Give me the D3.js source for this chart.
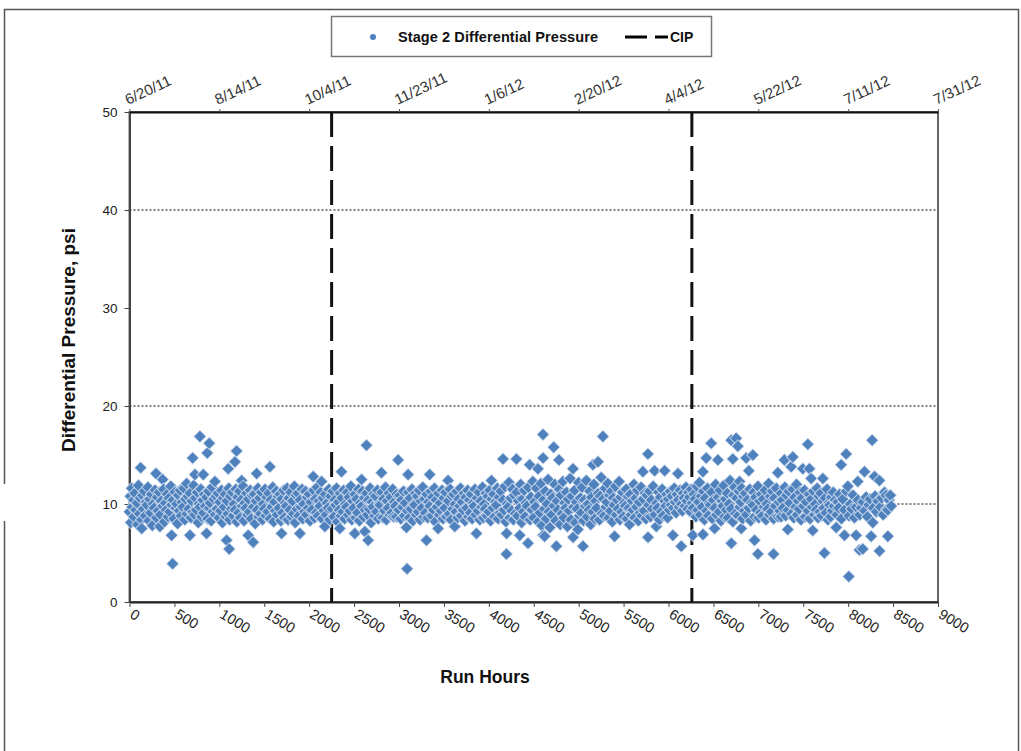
<!DOCTYPE html>
<meta charset="utf-8">
<script src="https://d3js.org/d3.v7.min.js"></script>
<style>
  body { margin: 0; background: #fff; }
  text { font-family: "Liberation Sans", Arial, sans-serif; }
</style>
<body>
<div id="chart"></div>
<script>

// ---- data ----
const xTicks = [0, 500, 1000, 1500, 2000, 2500, 3000, 3500, 4000, 4500, 5000, 5500, 6000, 6500, 7000, 7500, 8000, 8500, 9000];
const yTicks = [0, 10, 20, 30, 40, 50];
const gridValues = [10, 20, 40];
const dateTickHours = [0, 1000, 2000, 3000, 4000, 5000, 6000, 7000, 8000, 9000];
const dateLabels = ["6/20/11", "8/14/11", "10/4/11", "11/23/11", "1/6/12", "2/20/12", "4/4/12", "5/22/12", "7/11/12", "7/31/12"];
const cipHours = [2250, 6260];

// [run hours, stage 2 differential pressure psi]
const stage2Points = [
  [0,9.2],[10,10.8],[15,8.1],[25,11.6],[30,9.7],[45,10.4],[50,8.7],[60,11.1],[70,9.4],[85,10.1],[90,7.9],[100,11.9],[110,9.0],[120,10.6],[124,13.7],[135,8.4],[136,7.5],[145,10.9],[155,9.5],[165,11.3],[175,8.8],[185,10.2],[195,9.9],[205,11.7],[215,8.3],[225,10.5],[235,9.1],[245,11.0],[255,7.8],[265,10.0],[275,9.6],[285,11.4],[295,13.1],[300,8.6],[310,10.7],[320,9.3],[330,11.2],[339,7.7],[345,8.9],[355,10.3],[369,12.5],[370,9.8],[380,11.5],[390,8.2],[400,10.1],[410,9.4],[420,11.0],[430,8.7],[440,10.6],[450,9.2],[460,11.8],[469,6.8],[470,9.9],[480,3.9],[485,10.4],[495,8.5],
  [505,11.2],[515,9.6],[525,10.0],[535,8.0],[545,10.9],[555,9.3],[565,11.4],[575,8.8],[585,10.2],[595,9.7],[605,11.6],[615,8.4],[625,10.5],[636,12.1],[640,9.0],[650,10.8],[660,9.5],[673,6.8],[675,11.1],[685,8.6],[695,10.3],[703,14.7],[705,9.2],[715,11.9],[725,8.9],[729,13.0],[735,10.6],[745,9.4],[755,11.2],[765,8.1],[775,10.0],[784,16.9],[785,9.7],[795,11.5],[805,8.7],[815,10.4],[821,13.0],[825,9.1],[835,11.0],[845,9.8],[858,7.0],[860,10.7],[866,15.2],[870,8.5],[880,11.3],[888,16.2],[890,9.6],[900,10.1],[910,8.3],[920,11.7],[930,9.2],[940,10.5],[951,12.3],[955,8.9],[965,10.8],[975,9.5],[985,11.1],[995,8.6],
  [1005,10.2],[1015,9.3],[1025,11.4],[1035,8.1],[1045,10.6],[1055,9.7],[1065,11.0],[1075,8.7],[1081,6.3],[1085,10.3],[1095,9.0],[1099,13.6],[1105,11.6],[1110,5.4],[1115,8.4],[1125,10.8],[1135,9.5],[1145,11.2],[1155,8.8],[1165,10.0],[1174,14.3],[1175,9.4],[1185,11.5],[1192,15.4],[1195,8.2],[1205,10.7],[1215,9.1],[1225,11.3],[1235,8.6],[1245,10.4],[1248,12.4],[1255,9.8],[1265,11.8],[1275,8.3],[1285,10.1],[1295,9.6],[1305,11.1],[1315,8.9],[1322,6.8],[1325,10.5],[1335,9.2],[1345,11.4],[1355,8.5],[1365,10.9],[1377,6.1],[1380,9.7],[1390,11.0],[1400,8.0],[1410,10.3],[1415,13.1],[1420,9.4],[1430,11.6],[1440,8.7],[1450,10.6],[1460,9.0],[1470,11.2],[1480,8.4],[1490,10.0],
  [1500,9.5],[1510,11.5],[1520,8.8],[1530,10.7],[1540,9.2],[1550,11.1],[1563,13.8],[1565,8.5],[1575,10.4],[1585,9.7],[1595,11.7],[1605,8.2],[1615,10.2],[1625,9.3],[1635,11.3],[1645,8.9],[1655,10.8],[1665,9.6],[1675,11.0],[1685,8.3],[1693,7.0],[1695,10.5],[1705,9.1],[1715,11.4],[1725,8.6],[1735,10.1],[1745,9.8],[1755,11.6],[1765,8.4],[1775,10.6],[1785,9.4],[1795,11.2],[1805,8.7],[1815,10.3],[1825,9.0],[1835,11.8],[1845,8.1],[1855,10.9],[1865,9.5],[1875,11.1],[1885,8.8],[1897,7.0],[1900,10.4],[1910,9.7],[1920,11.5],[1930,8.5],[1940,10.0],[1950,9.2],[1960,11.3],[1970,8.9],[1980,10.7],[1990,9.6],[2000,11.0],[2010,8.3],[2020,10.2],[2030,9.4],[2045,12.8],[2050,11.4],[2060,8.6],[2070,10.5],[2080,9.1],[2090,11.7],[2100,8.8],[2110,10.3],[2120,9.8],[2130,11.2],[2138,12.3],[2145,8.5],[2155,10.6],[2165,9.3],[2175,7.7],[2180,11.0],[2190,8.9],[2200,10.1],[2210,9.6],[2220,11.5],[2230,8.4],[2240,10.8],
  [2255,9.5],[2265,11.3],[2275,8.7],[2285,10.4],[2295,9.9],[2305,11.6],[2315,8.2],[2325,10.2],[2335,9.4],[2341,7.5],[2345,11.1],[2355,8.8],[2360,13.3],[2365,10.6],[2375,9.2],[2385,11.4],[2395,8.5],[2405,10.0],[2415,9.7],[2425,11.2],[2435,8.9],[2445,10.7],[2455,9.3],[2465,11.8],[2475,8.4],[2485,10.3],[2495,9.6],[2508,7.0],[2510,11.0],[2520,8.6],[2530,10.5],[2540,9.1],[2550,11.5],[2560,8.3],[2570,10.1],[2583,12.5],[2585,9.8],[2595,11.3],[2605,8.7],[2615,10.6],[2620,7.2],[2625,9.4],[2638,16.0],[2640,11.1],[2650,8.9],[2656,6.3],[2660,10.4],[2670,9.5],[2680,11.6],[2690,8.1],[2700,10.2],[2710,9.7],[2720,11.0],[2730,8.8],[2740,10.8],[2750,9.2],[2760,11.4],[2770,8.5],[2780,10.0],[2790,9.9],[2805,13.2],[2810,11.2],[2820,8.6],[2830,10.5],[2840,9.3],[2850,11.7],[2860,8.4],[2870,10.3],[2880,9.6],[2890,11.1],[2900,8.9],[2910,10.7],[2920,9.1],[2930,11.5],[2940,8.7],[2950,10.2],[2960,9.8],[2972,8.7],[2975,11.0],[2990,14.5],
  [3000,9.4],[3010,10.9],[3020,8.5],[3030,10.4],[3040,9.7],[3050,11.3],[3060,8.8],[3070,10.1],[3083,7.6],[3090,3.4],[3095,9.3],[3101,13.0],[3105,11.2],[3115,8.6],[3125,10.6],[3135,9.5],[3145,11.5],[3155,8.3],[3165,10.0],[3175,9.9],[3185,11.1],[3195,8.9],[3205,10.8],[3215,9.2],[3225,11.4],[3235,8.4],[3245,10.3],[3255,9.6],[3265,11.7],[3275,8.7],[3285,10.5],[3295,9.1],[3306,6.3],[3310,11.0],[3320,8.6],[3330,10.2],[3342,13.0],[3345,9.8],[3355,11.3],[3365,8.8],[3375,10.7],[3385,9.4],[3395,11.6],[3405,8.2],[3415,10.4],[3425,9.7],[3435,7.5],[3440,11.1],[3450,8.9],[3460,10.1],[3470,9.3],[3480,11.4],[3490,8.5],[3500,10.6],[3510,9.6],[3520,11.2],[3530,8.7],[3546,12.4],[3550,10.3],[3560,9.0],[3570,11.5],[3580,8.4],[3590,10.8],[3600,9.5],[3610,11.0],[3621,7.7],[3625,10.0],[3635,9.2],[3645,11.3],[3655,8.6],[3665,10.5],[3675,9.8],[3685,11.6],[3695,8.8],[3705,10.2],[3715,9.4],[3725,11.1],[3735,8.3],[3745,10.7],
  [3755,9.6],[3765,11.4],[3775,8.7],[3785,10.4],[3795,9.1],[3805,11.0],[3815,8.5],[3825,10.1],[3835,9.8],[3845,11.5],[3855,8.9],[3862,7.0],[3870,10.6],[3880,9.3],[3890,11.2],[3900,8.4],[3910,10.3],[3920,9.7],[3930,11.7],[3940,8.6],[3950,10.0],[3960,9.5],[3970,11.1],[3980,8.8],[3990,10.8],[4000,9.2],[4010,11.4],[4020,8.3],[4029,12.4],[4035,10.5],[4045,9.6],[4055,11.0],[4065,8.7],[4075,10.2],[4085,9.9],[4095,11.6],[4105,8.5],[4115,10.7],[4125,9.1],[4135,11.3],[4145,8.9],[4158,14.6],[4160,10.4],[4170,9.4],[4180,11.8],[4190,8.2],[4196,4.9],[4198,7.0],[4205,10.0],[4215,9.7],[4225,12.2],[4235,8.6],[4245,10.6],[4255,9.3],[4265,11.5],[4275,8.4],[4285,10.9],[4295,9.0],[4307,14.6],[4310,11.2],[4320,8.8],[4330,10.3],[4344,6.8],[4345,9.6],[4355,12.0],[4365,8.1],[4375,10.5],[4385,9.2],[4395,11.4],[4405,8.7],[4415,10.1],[4425,9.8],[4436,6.0],[4440,11.7],[4455,14.0],[4460,8.4],[4470,10.7],[4480,9.4],[4490,12.3],
  [4500,8.6],[4510,10.2],[4520,9.7],[4530,11.6],[4547,13.6],[4550,8.2],[4560,10.8],[4570,9.1],[4580,12.1],[4590,7.8],[4603,17.1],[4604,14.7],[4605,6.8],[4610,10.4],[4620,9.5],[4622,6.7],[4630,11.3],[4640,8.5],[4650,10.0],[4660,12.5],[4670,9.2],[4680,7.6],[4690,11.0],[4700,8.9],[4710,10.6],[4722,15.8],[4725,9.8],[4735,12.0],[4745,8.3],[4752,5.7],[4760,10.3],[4770,9.4],[4781,14.5],[4785,11.5],[4795,7.9],[4805,10.9],[4815,9.0],[4825,12.3],[4835,8.6],[4845,10.1],[4855,9.6],[4865,11.2],[4875,7.7],[4885,10.5],[4895,9.3],[4905,12.6],[4915,8.4],[4925,10.8],[4937,13.6],[4938,6.6],[4945,9.7],[4955,11.4],[4965,8.1],[4975,10.2],[4985,9.5],[4992,7.4],[5000,12.2],[5010,8.8],[5020,10.6],[5030,9.1],[5040,11.7],[5048,5.7],[5055,8.3],[5065,10.4],[5075,9.8],[5085,12.4],[5095,8.7],[5105,10.0],[5115,9.4],[5125,11.3],[5135,7.9],[5145,10.7],[5159,14.0],[5160,9.2],[5170,12.0],[5180,8.5],[5190,10.3],[5200,9.6],[5215,14.3],[5220,11.1],[5233,8.4],[5240,10.8],[5250,12.7],
  [5260,9.0],[5270,16.9],[5275,10.5],[5285,8.8],[5295,11.6],[5305,9.7],[5315,10.2],[5325,12.1],[5335,8.6],[5345,10.9],[5355,9.3],[5365,11.3],[5375,8.2],[5385,10.6],[5395,9.9],[5400,6.7],[5410,11.8],[5420,8.9],[5430,10.4],[5440,9.5],[5450,12.3],[5460,8.4],[5470,10.7],[5480,9.2],[5490,11.2],[5500,8.7],[5510,10.1],[5520,9.8],[5530,11.5],[5540,8.5],[5550,10.8],[5560,9.6],[5567,7.9],[5575,11.0],[5585,8.9],[5595,10.3],[5605,9.4],[5615,12.0],[5625,8.6],[5635,10.6],[5645,9.7],[5655,11.4],[5665,8.3],[5675,10.2],[5685,9.1],[5695,11.7],[5705,8.8],[5715,13.3],[5720,10.5],[5730,9.3],[5740,11.1],[5750,8.5],[5760,10.9],[5771,15.1],[5772,6.6],[5780,9.9],[5790,11.3],[5800,8.7],[5810,10.4],[5820,9.5],[5830,11.8],[5845,13.4],[5850,8.9],[5864,7.7],[5870,10.1],[5880,9.6],[5890,11.2],[5900,8.4],[5910,10.7],[5920,9.2],[5930,11.5],[5940,8.8],[5957,13.4],[5960,10.3],[5970,9.8],[5980,11.0],[5990,8.6],
  [6000,10.5],[6010,9.4],[6020,11.3],[6030,9.9],[6040,10.8],[6049,6.8],[6055,9.6],[6065,11.6],[6075,10.2],[6085,9.1],[6095,11.0],[6105,13.1],[6110,10.4],[6120,9.7],[6130,11.4],[6142,5.7],[6145,10.0],[6155,9.3],[6165,11.1],[6175,10.6],[6185,9.8],[6195,11.7],[6205,10.3],[6215,9.5],[6225,11.2],[6235,10.7],[6245,9.2],[6255,11.5],[6265,10.1],[6271,6.8],[6275,9.6],[6285,11.0],[6295,10.5],[6305,8.7],[6315,11.8],[6325,9.4],[6335,10.2],[6345,12.2],[6355,8.9],[6365,10.8],[6375,9.7],[6383,13.3],[6384,6.9],[6390,11.3],[6400,8.4],[6410,10.6],[6420,14.7],[6425,9.3],[6435,11.6],[6445,8.8],[6455,10.1],[6465,9.9],[6476,16.2],[6480,11.2],[6490,8.5],[6500,10.4],[6513,7.5],[6515,9.6],[6525,12.0],[6535,8.9],[6550,14.5],[6555,10.7],[6565,9.2],[6575,11.4],[6585,8.3],[6595,10.3],[6605,9.8],[6615,11.9],[6625,8.7],[6635,10.5],[6645,9.4],[6655,11.1],[6665,8.6],[6675,10.0],[6685,12.4],[6698,16.5],[6699,6.0],[6700,9.5],[6716,14.6],[6717,8.2],[6725,10.9],[6735,11.7],[6745,9.0],
  [6754,16.7],[6760,10.6],[6772,15.9],[6775,8.8],[6785,11.3],[6791,12.3],[6795,9.7],[6805,10.2],[6810,7.5],[6815,11.6],[6825,8.5],[6835,10.8],[6845,9.3],[6855,11.1],[6865,14.7],[6870,8.9],[6880,10.4],[6894,13.4],[6895,9.6],[6905,11.5],[6915,8.3],[6925,10.1],[6939,15.0],[6940,9.9],[6950,11.2],[6958,6.3],[6960,8.7],[6970,10.7],[6980,9.4],[6995,4.9],[6996,11.8],[7005,8.6],[7015,10.3],[7025,9.1],[7035,11.0],[7045,8.8],[7055,10.5],[7065,9.7],[7075,11.4],[7085,8.4],[7095,10.0],[7105,9.5],[7115,12.1],[7125,8.9],[7135,10.8],[7145,9.2],[7155,11.3],[7169,4.9],[7170,8.5],[7180,10.6],[7190,9.8],[7200,11.6],[7217,13.2],[7220,8.7],[7230,10.2],[7240,9.3],[7254,8.7],[7255,11.1],[7265,10.4],[7275,9.6],[7291,14.5],[7295,11.7],[7305,8.8],[7315,10.9],[7328,7.4],[7330,9.4],[7340,11.3],[7350,10.1],[7366,13.8],[7370,9.0],[7384,14.8],[7385,11.5],[7395,8.6],[7405,10.7],[7415,9.7],[7425,12.0],[7435,8.9],[7445,10.3],[7455,9.5],[7465,11.2],[7475,8.4],[7485,10.6],[7495,13.6],
  [7505,9.8],[7515,11.4],[7525,8.7],[7535,10.2],[7551,16.1],[7555,9.3],[7565,11.0],[7569,13.6],[7575,8.5],[7588,12.6],[7590,10.5],[7600,9.7],[7606,7.3],[7615,11.3],[7625,8.9],[7635,10.0],[7645,9.4],[7655,11.6],[7665,8.6],[7675,10.8],[7685,9.2],[7695,11.1],[7705,8.8],[7718,12.6],[7720,10.3],[7730,9.6],[7736,5.0],[7745,10.6],[7755,9.1],[7765,11.5],[7775,8.4],[7785,10.1],[7795,9.9],[7805,8.7],[7815,10.7],[7825,9.3],[7835,11.2],[7845,9.8],[7855,10.4],[7867,7.6],[7875,8.9],[7885,10.2],[7895,9.6],[7905,11.0],[7922,14.0],[7925,8.5],[7940,10.5],[7959,6.8],[7960,9.4],[7978,15.1],[7980,11.3],[7996,11.8],[8007,2.6],[8010,8.8],[8025,10.0],[8040,9.5],[8055,10.9],[8070,8.6],[8089,6.8],[8090,9.7],[8107,12.3],[8110,10.4],[8126,5.3],[8130,8.9],[8145,9.6],[8163,5.4],[8165,10.2],[8182,13.3],[8185,9.3],[8200,10.7],[8215,8.7],[8230,9.9],[8245,10.5],[8256,6.7],[8267,16.5],[8274,8.1],[8280,9.6],[8293,12.8],[8300,10.8],[8315,9.2],[8330,10.3],[8348,12.4],[8349,5.2],[8360,9.7],[8375,10.6],[8390,8.9],[8405,11.2],[8423,10.9],[8430,9.5],[8441,9.4],[8442,6.7],[8455,10.4],[8470,10.9],[8480,9.8]
];

// ---- layout ----
const W = 1021, H = 751;
const plot = {left: 129.5, right: 938, top: 112, bottom: 602};

const svg = d3.select("#chart").append("svg")
    .attr("width", W)
    .attr("height", H);

svg.append("rect").attr("width", W).attr("height", H).attr("fill", "#fff");

// outer chart frame
svg.append("rect")
    .attr("x", 4.5).attr("y", 9.5)
    .attr("width", 1014).attr("height", 780)
    .attr("fill", "none")
    .attr("stroke", "#555")
    .attr("stroke-width", 1.5);
// scan glitch on the left edge of the frame
svg.append("rect").attr("x", 0).attr("y", 484).attr("width", 10).attr("height", 37).attr("fill", "#fff");

const x = d3.scaleLinear().domain([0, 9000]).range([plot.left, plot.right]);
const y = d3.scaleLinear().domain([0, 50]).range([plot.bottom, plot.top]);

// gridlines
svg.append("g")
  .selectAll("line")
  .data(gridValues)
  .join("line")
    .attr("x1", plot.left).attr("x2", plot.right)
    .attr("y1", d => y(d)).attr("y2", d => y(d))
    .attr("stroke", "#000")
    .attr("stroke-width", 1)
    .attr("stroke-dasharray", "2,2");

// plot border
svg.append("rect")
    .attr("x", plot.left).attr("y", plot.top)
    .attr("width", plot.right - plot.left)
    .attr("height", plot.bottom - plot.top)
    .attr("fill", "none")
    .attr("stroke", "#666")
    .attr("stroke-width", 2);

// bottom axis (run hours)
const xAxis = svg.append("g")
    .attr("transform", "translate(0," + plot.bottom + ")")
    .call(d3.axisBottom(x).tickValues(xTicks).tickSize(5).tickSizeOuter(0).tickFormat(d3.format("d")));
xAxis.select(".domain").attr("stroke", "#222").attr("stroke-width", 2);
xAxis.selectAll(".tick line").attr("stroke", "#444");
xAxis.selectAll(".tick text")
    .attr("text-anchor", "start")
    .attr("font-size", 14.5)
    .attr("font-family", "Liberation Sans, Arial, sans-serif")
    .attr("fill", "#222")
    .attr("y", 0).attr("dy", 0)
    .attr("transform", "translate(-1,15) rotate(31)");

// left axis
const yAxis = svg.append("g")
    .attr("transform", "translate(" + plot.left + ",0)")
    .call(d3.axisLeft(y).tickValues(yTicks).tickSize(5).tickSizeOuter(0));
yAxis.select(".domain").attr("stroke", "#444").attr("stroke-width", 2);
yAxis.selectAll(".tick line").attr("stroke", "#444");
yAxis.selectAll(".tick text")
    .attr("x", -12)
    .attr("font-size", 13.5)
    .attr("font-family", "Liberation Sans, Arial, sans-serif")
    .attr("fill", "#222");

// top axis with dates
const topAxis = svg.append("g")
    .attr("transform", "translate(0," + plot.top + ")")
    .call(d3.axisTop(x).tickValues(dateTickHours).tickSize(3).tickSizeOuter(0)
      .tickFormat((d, i) => dateLabels[i]));
topAxis.select(".domain").attr("stroke", "#111").attr("stroke-width", 2);
topAxis.selectAll(".tick line").attr("stroke", "#555");
topAxis.selectAll(".tick text")
    .attr("text-anchor", "start")
    .attr("font-size", 15)
    .attr("font-family", "Lato, Open Sans, sans-serif")
    .attr("fill", "#333")
    .attr("y", 0).attr("dy", 0)
    .attr("transform", "translate(-2,-7) rotate(-25)");

// CIP lines
svg.append("g")
  .selectAll("line")
  .data(cipHours)
  .join("line")
    .attr("x1", d => x(d)).attr("x2", d => x(d))
    .attr("y1", plot.top).attr("y2", plot.bottom)
    .attr("stroke", "#111")
    .attr("stroke-width", 3)
    .attr("stroke-dasharray", "25,9");

// stage 2 points as diamonds
const diamond = d3.symbol().type(d3.symbolSquare).size(78);
svg.append("g")
  .selectAll("path")
  .data(stage2Points)
  .join("path")
    .attr("d", diamond)
    .attr("transform", d => "translate(" + x(d[0]) + "," + y(d[1]) + ") rotate(45)")
    .attr("fill", "#4F81BD")
    .attr("stroke", "rgba(225,234,245,0.75)")
    .attr("stroke-width", 1);

// axis titles
svg.append("text")
    .attr("transform", "translate(75,340) rotate(-90)")
    .attr("text-anchor", "middle")
    .attr("font-size", 19)
    .attr("font-weight", "bold")
    .attr("fill", "#111")
    .text("Differential Pressure, psi");

svg.append("text")
    .attr("x", 485).attr("y", 683)
    .attr("text-anchor", "middle")
    .attr("font-size", 17.5)
    .attr("font-weight", "bold")
    .attr("fill", "#111")
    .text("Run Hours");

// legend
const legend = svg.append("g");
legend.append("rect")
    .attr("x", 331.5).attr("y", 16.5)
    .attr("width", 380).attr("height", 40)
    .attr("fill", "#fff")
    .attr("stroke", "#777")
    .attr("stroke-width", 1.5);
legend.append("circle")
    .attr("cx", 373).attr("cy", 37).attr("r", 3)
    .attr("fill", "#4F81BD");
legend.append("text")
    .attr("x", 398).attr("y", 42)
    .attr("font-size", 14.5).attr("font-weight", "bold").attr("fill", "#111")
    .attr("textLength", 200)
    .text("Stage 2 Differential Pressure");
legend.append("line")
    .attr("x1", 625).attr("x2", 668)
    .attr("y1", 37).attr("y2", 37)
    .attr("stroke", "#000").attr("stroke-width", 3)
    .attr("stroke-dasharray", "22,8");
legend.append("text")
    .attr("x", 670).attr("y", 42)
    .attr("font-size", 14).attr("font-weight", "bold").attr("fill", "#111")
    .text("CIP");

</script>
</body>
